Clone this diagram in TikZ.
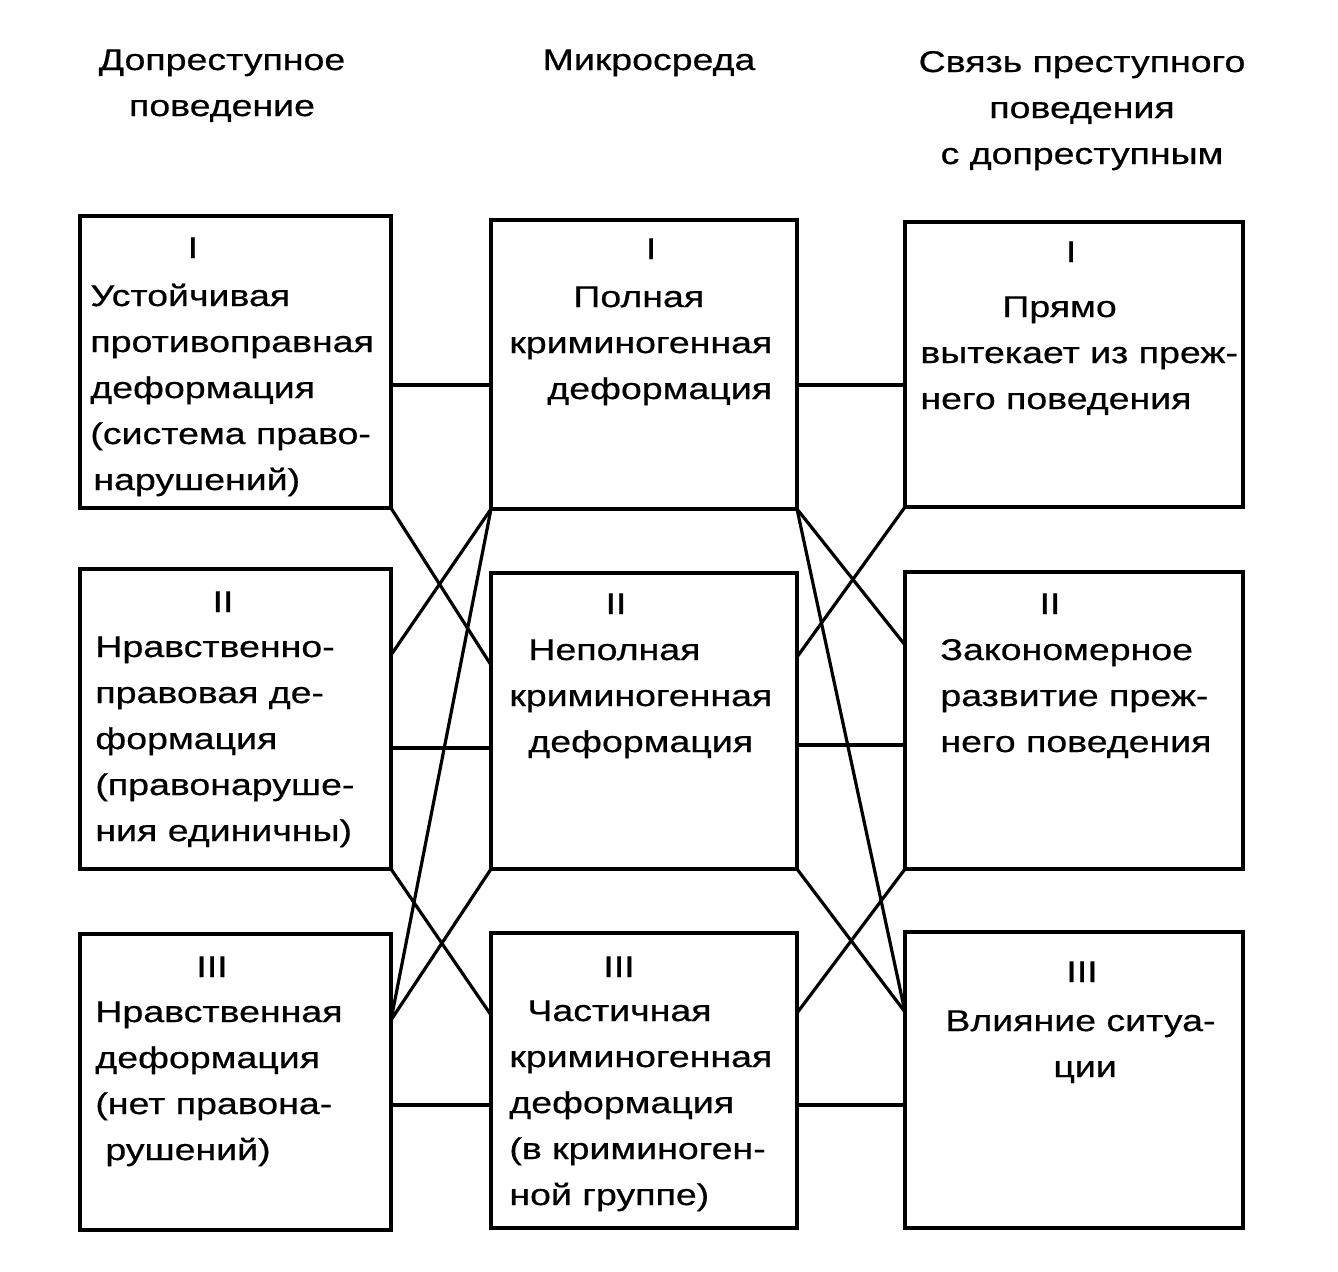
\documentclass[tikz,border=0pt]{standalone}
\usepackage{fontspec}
\setmainfont{Liberation Sans}[FakeStretch=1.25,FakeBold=0.6]
\newcommand{\boxlines}[1]{\begin{tabular}[t]{@{}l@{}}#1\end{tabular}}
\newcommand{\headlines}[1]{\begin{tabular}[t]{@{}c@{}}#1\end{tabular}}
\begin{document}
\begin{tikzpicture}[x=0.5pt,y=-0.5pt,
  box/.style={draw,line width=2pt,inner sep=0pt,outer sep=0pt,anchor=north west},
  link/.style={line width=1.6pt},
  txt/.style={inner sep=0pt,anchor=base west,font=\fontsize{15}{23}\selectfont},
  num/.style={inner sep=0pt,anchor=base,font=\fontsize{15}{23}\selectfont}]
\useasboundingbox (0,0) rectangle (1338,1271);
\node[num] (hdop) at (222,70) {\headlines{Допреступное\\поведение}};
\node[num] (hmik) at (649,70) {Микросреда};
\node[num] (hsvz) at (1082,72) {\headlines{Связь преступного\\поведения\\с допреступным}};
\node[box,minimum width=155.5pt,minimum height=146pt] (dopI) at (80,216) {};
\node[box,minimum width=155.5pt,minimum height=150pt] (dopII) at (80,569) {};
\node[box,minimum width=155.5pt,minimum height=148pt] (dopIII) at (80,934) {};
\node[box,minimum width=153pt,minimum height=144.5pt] (mikI) at (491,220) {};
\node[box,minimum width=153pt,minimum height=148pt] (mikII) at (491,573) {};
\node[box,minimum width=153pt,minimum height=147.5pt] (mikIII) at (491,933) {};
\node[box,minimum width=169pt,minimum height=142.5pt] (svzI) at (905,222) {};
\node[box,minimum width=169pt,minimum height=148.5pt] (svzII) at (905,572) {};
\node[box,minimum width=169pt,minimum height=148pt] (svzIII) at (905,932) {};
\node[num] (dopIn) at (193,258) {I};
\node[txt] (dopIt) at (90,306) {\boxlines{Устойчивая\\противоправная\\деформация\\(система право-\\\hspace{1.5pt}нарушений)}};
\node[num] (dopIIn) at (223,612) {II};
\node[txt] (dopIIt) at (95,657) {\boxlines{Нравственно-\\правовая де-\\формация\\(правонаруше-\\ния единичны)}};
\node[num] (dopIIIn) at (212,977) {III};
\node[txt] (dopIIIt) at (95,1022) {\boxlines{Нравственная\\деформация\\(нет правона-\\\hspace{5pt}рушений)}};
\node[num] (mikIn) at (651,259) {I};
\node[txt] (mikIt) at (509,307) {\boxlines{\hspace{32pt}Полная\\криминогенная\\\hspace{19pt}деформация}};
\node[num] (mikIIn) at (616,614) {II};
\node[txt] (mikIIt) at (509,660) {\boxlines{\hspace{9.5pt}Неполная\\криминогенная\\\hspace{9.5pt}деформация}};
\node[num] (mikIIIn) at (619,977) {III};
\node[txt] (mikIIIt) at (509,1021) {\boxlines{\hspace{9pt}Частичная\\криминогенная\\деформация\\(в криминоген-\\ной группе)}};
\node[num] (svzIn) at (1071,262) {I};
\node[txt] (svzIt) at (920,317) {\boxlines{\hspace{41pt}Прямо\\вытекает из преж-\\него поведения}};
\node[num] (svzIIn) at (1050,614) {II};
\node[txt] (svzIIt) at (940,660) {\boxlines{Закономерное\\развитие преж-\\него поведения}};
\node[num] (svzIIIn) at (1082,982) {III};
\node[txt] (svzIIIt) at (945,1031) {\boxlines{Влияние ситуа-\\\hspace{54pt}ции}};
\coordinate (mikIIl) at ([yshift=28pt]mikII.west);
\coordinate (dopIIr) at ([yshift=32pt]dopII.east);
\coordinate (dopIIIr) at ([yshift=31pt]dopIII.east);
\coordinate (mikIIIl) at ([yshift=32.75pt]mikIII.west);
\coordinate (svzIIl) at ([yshift=37.75pt]svzII.west);
\coordinate (mikIIr) at ([yshift=32pt]mikII.east);
\coordinate (svzIIIl) at ([yshift=34pt]svzIII.west);
\coordinate (mikIIIr) at ([yshift=33.75pt]mikIII.east);
\draw[link] ([yshift=-11.5pt]dopI.east) -- ([yshift=-11.5pt]dopI.east -| mikI.west);
\draw[link] ([yshift=-10.25pt]mikI.east) -- ([yshift=-10.25pt]mikI.east -| svzI.west);
\draw[link] ([yshift=-14.5pt]dopII.east) -- ([yshift=-14.5pt]dopII.east -| mikII.west);
\draw[link] ([yshift=-12pt]mikII.east) -- ([yshift=-12pt]mikII.east -| svzII.west);
\draw[link] ([yshift=-11.5pt]dopIII.east) -- ([yshift=-11.5pt]dopIII.east -| mikIII.west);
\draw[link] ([yshift=-12.25pt]mikIII.east) -- ([yshift=-12.25pt]mikIII.east -| svzIII.west);
\draw[link] (dopI.south east) -- (mikIIl);
\draw[link] (mikI.south west) -- (dopIIr);
\draw[link] (mikI.south west) -- (dopIIIr);
\draw[link] (dopII.south east) -- (mikIIIl);
\draw[link] (mikII.south west) -- (dopIIIr);
\draw[link] (mikI.south east) -- (svzIIl);
\draw[link] (svzI.south west) -- (mikIIr);
\draw[link] (mikI.south east) -- (svzIIIl);
\draw[link] (mikII.south east) -- (svzIIIl);
\draw[link] (svzII.south west) -- (mikIIIr);
\end{tikzpicture}
\end{document}
